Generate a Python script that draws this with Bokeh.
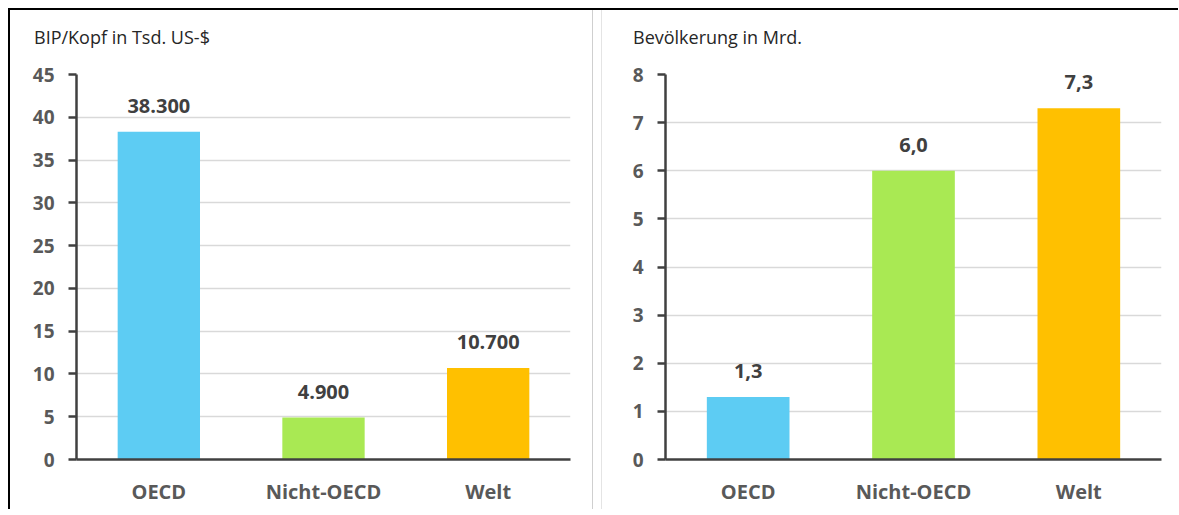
from bokeh.plotting import figure
from bokeh.models import ColumnDataSource, Div, Spacer, FixedTicker
from bokeh.layouts import row, column
from bokeh.core.properties import value
from bokeh.embed import file_html
from bokeh.resources import INLINE

categories = ["OECD", "Nicht-OECD", "Welt"]
bar_colors = ["#5DCCF3", "#A9E953", "#FFC000"]
gdp_values = [38.3, 4.9, 10.7]
gdp_labels = ["38.300", "4.900", "10.700"]
gdp_ticks = [0, 5, 10, 15, 20, 25, 30, 35, 40, 45]
pop_values = [1.3, 6.0, 7.3]
pop_labels = ["1,3", "6,0", "7,3"]
pop_ticks = [0, 1, 2, 3, 4, 5, 6, 7, 8]

FONT = "Open Sans"
H = 499
HEAD = 42


def make(title, values, labels, ticks, width, mbl, mbr, title_left):
    src = ColumnDataSource(dict(cat=categories, val=values, lab=labels, col=bar_colors))
    p = figure(x_range=categories, y_range=(0, ticks[-1]), width=width, height=H - HEAD,
               output_backend="svg", toolbar_location=None,
               min_border_left=mbl, min_border_right=mbr,
               min_border_top=64 - HEAD, min_border_bottom=H - 449)
    p.vbar(x="cat", top="val", width=0.5, fill_color="col", line_color=None, source=src)
    p.text(x="cat", y="val", text="lab", source=src, text_align="center",
           text_baseline="bottom", y_offset=-19, text_font=value(FONT),
           text_font_style="bold", text_font_size="20px", text_color="#404040")
    p.outline_line_color = None
    p.background_fill_color = "white"
    p.border_fill_color = "white"
    p.xgrid.grid_line_color = None
    p.ygrid.grid_line_color = "#D9D9D9"
    p.ygrid.grid_line_width = 1.5
    p.yaxis.ticker = FixedTicker(ticks=ticks)
    p.yaxis.axis_line_width = 2.5
    p.yaxis.axis_line_color = "#404040"
    p.yaxis.major_tick_line_color = "#404040"
    p.yaxis.major_tick_line_width = 2.5
    p.yaxis.major_tick_out = 8
    p.yaxis.major_tick_in = 0
    p.yaxis.minor_tick_line_color = None
    p.yaxis.major_label_standoff = 14
    p.yaxis.major_label_text_font = FONT
    p.yaxis.major_label_text_font_style = "bold"
    p.yaxis.major_label_text_font_size = "19px"
    p.yaxis.major_label_text_color = "#595959"
    p.xaxis.axis_line_width = 2.5
    p.xaxis.axis_line_color = "#404040"
    p.xaxis.major_tick_line_color = None
    p.xaxis.major_tick_out = 0
    p.xaxis.major_tick_in = 0
    p.xaxis.major_label_standoff = 18
    p.xaxis.major_label_text_font = FONT
    p.xaxis.major_label_text_font_style = "bold"
    p.xaxis.major_label_text_font_size = "20px"
    p.xaxis.major_label_text_color = "#595959"
    head = Div(text=title, width=width, height=HEAD, margin=0,
               styles={"font-family": "'Open Sans', sans-serif", "font-size": "18px",
                       "color": "#262626", "padding-left": f"{title_left}px",
                       "padding-top": "15px", "box-sizing": "border-box",
                       "line-height": "24px", "background-color": "white",
                       "white-space": "nowrap", "overflow": "visible"})
    return column(head, p, spacing=0, margin=0)


p1 = make("BIP/Kopf in Tsd. US-$", gdp_values, gdp_labels, gdp_ticks, 582, 66, 22, 24)
p2 = make("Bevölkerung in Mrd.", pop_values, pop_labels, pop_ticks, 576, 63, 17, 31)

line1 = Div(width=1, height=H, margin=0, styles={"background-color": "#CFCFCF"})
gap = Spacer(width=8, height=H, margin=0)
line2 = Div(width=1, height=H, margin=0, styles={"background-color": "#E4E4E4"})

framed = row(p1, line1, gap, line2, p2, spacing=0, margin=0,
             styles={"border-top": "2px solid #000000", "border-left": "2px solid #000000"})

layout = column(Spacer(height=8, width=10, margin=0),
                row(Spacer(width=8, height=H, margin=0), framed, spacing=0, margin=0),
                spacing=0, margin=0)

open("out.html", "w").write(file_html(layout, INLINE))
